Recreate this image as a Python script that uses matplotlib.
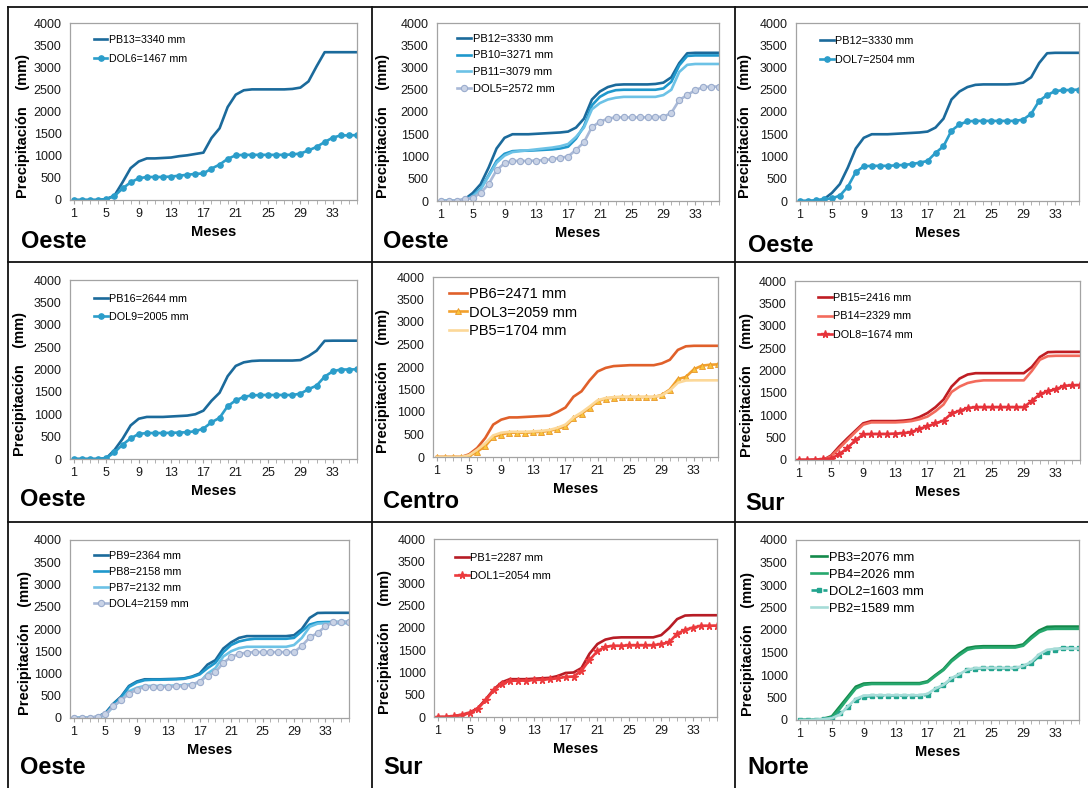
import matplotlib
matplotlib.use('Agg')
import matplotlib.pyplot as plt
from matplotlib.lines import Line2D

plt.rcParams['font.family'] = ['Liberation Sans', 'DejaVu Sans']

# ---------------- data ----------------
months = list(range(1, 37))
xtick_labels = [1, 5, 9, 13, 17, 21, 25, 29, 33]
yticks = [0, 500, 1000, 1500, 2000, 2500, 3000, 3500, 4000]

PB13 = [0, 0, 0, 0, 20, 100, 400, 720, 870, 940, 940, 950, 960, 990, 1010, 1040, 1070, 1400, 1620, 2100,
        2380, 2480, 2500, 2500, 2500, 2500, 2500, 2510, 2540, 2680, 3020, 3340, 3340, 3340, 3340, 3340]
DOL6 = [0, 0, 0, 0, 20, 90, 260, 400, 490, 520, 520, 520, 530, 550, 570, 590, 600, 710, 800, 930,
        1010, 1020, 1020, 1020, 1020, 1020, 1020, 1030, 1050, 1120, 1200, 1310, 1410, 1460, 1460, 1467]

PB12 = [0, 0, 0, 40, 180, 380, 750, 1180, 1420, 1500, 1500, 1500, 1510, 1520, 1530, 1540, 1560, 1650, 1850, 2280,
        2460, 2560, 2610, 2620, 2620, 2620, 2620, 2630, 2660, 2780, 3100, 3320, 3330, 3330, 3330, 3330]
PB10 = [0, 0, 0, 20, 120, 280, 580, 900, 1060, 1120, 1130, 1130, 1140, 1150, 1160, 1180, 1220, 1400, 1680, 2150,
        2340, 2440, 2490, 2500, 2500, 2500, 2500, 2500, 2530, 2680, 3050, 3260, 3271, 3271, 3271, 3271]
PB11 = [0, 0, 0, 20, 100, 260, 560, 860, 1020, 1100, 1120, 1140, 1160, 1180, 1200, 1230, 1280, 1440, 1650, 2060,
        2200, 2280, 2320, 2340, 2340, 2340, 2340, 2340, 2380, 2500, 2900, 3060, 3079, 3079, 3079, 3079]
DOL5 = [0, 0, 10, 40, 70, 180, 380, 690, 850, 900, 900, 900, 910, 920, 940, 970, 1000, 1150, 1320, 1660,
        1780, 1850, 1880, 1880, 1880, 1880, 1880, 1890, 1890, 1980, 2270, 2380, 2490, 2560, 2570, 2572]

DOL7 = [0, 0, 20, 40, 60, 120, 320, 650, 780, 790, 790, 790, 800, 810, 830, 860, 900, 1080, 1230, 1580,
        1720, 1790, 1800, 1800, 1800, 1800, 1800, 1800, 1830, 1960, 2250, 2380, 2470, 2490, 2495, 2504]

PB16 = [0, 0, 0, 0, 20, 200, 450, 750, 900, 940, 940, 940, 950, 960, 970, 1000, 1080, 1300, 1480, 1850,
        2080, 2160, 2190, 2200, 2200, 2200, 2200, 2200, 2210, 2300, 2420, 2640, 2644, 2644, 2644, 2644]
DOL9 = [0, 0, 0, 0, 20, 150, 320, 460, 560, 580, 580, 580, 585, 590, 600, 620, 680, 820, 920, 1180,
        1310, 1390, 1420, 1430, 1430, 1430, 1430, 1430, 1460, 1560, 1640, 1840, 1960, 2000, 2000, 2005]

PB6 = [0, 0, 0, 0, 60, 200, 420, 720, 830, 880, 880, 890, 900, 910, 920, 1000, 1100, 1340, 1460, 1700,
       1900, 1980, 2020, 2030, 2040, 2040, 2040, 2040, 2080, 2160, 2380, 2460, 2471, 2471, 2471, 2471]
DOL3 = [0, 0, 0, 0, 20, 120, 240, 450, 500, 540, 540, 540, 550, 560, 580, 630, 680, 860, 960, 1090,
        1240, 1300, 1320, 1330, 1330, 1330, 1330, 1330, 1380, 1500, 1730, 1780, 1950, 2030, 2050, 2059]
PB5 = [0, 0, 0, 0, 40, 160, 300, 480, 540, 560, 560, 560, 570, 580, 600, 650, 720, 880, 990, 1120,
       1260, 1310, 1330, 1340, 1340, 1340, 1340, 1340, 1370, 1480, 1650, 1700, 1704, 1704, 1704, 1704]

PB15 = [0, 0, 0, 0, 100, 300, 480, 650, 820, 870, 870, 870, 870, 880, 900, 960, 1050, 1180, 1350, 1640,
        1820, 1910, 1940, 1940, 1940, 1940, 1940, 1940, 1940, 2080, 2300, 2410, 2416, 2416, 2416, 2416]
PB14 = [0, 0, 0, 0, 80, 260, 440, 620, 790, 840, 840, 840, 840, 850, 870, 910, 970, 1090, 1240, 1520,
        1640, 1720, 1760, 1780, 1780, 1780, 1780, 1780, 1780, 1990, 2240, 2320, 2329, 2329, 2329, 2329]
DOL8 = [0, 0, 10, 20, 30, 130, 260, 440, 570, 580, 580, 580, 590, 600, 620, 700, 750, 820, 880, 1040,
        1100, 1160, 1180, 1180, 1180, 1180, 1180, 1180, 1180, 1320, 1470, 1540, 1580, 1660, 1665, 1674]

PB9 = [0, 0, 0, 30, 110, 320, 480, 720, 820, 870, 870, 870, 875, 880, 890, 930, 1000, 1200, 1300, 1560,
       1700, 1800, 1840, 1840, 1840, 1840, 1840, 1840, 1860, 2000, 2250, 2360, 2364, 2364, 2364, 2364]
PB8 = [0, 0, 0, 20, 90, 300, 460, 700, 800, 850, 860, 860, 865, 870, 880, 920, 980, 1120, 1240, 1480,
       1640, 1720, 1760, 1780, 1780, 1780, 1780, 1780, 1800, 1950, 2100, 2150, 2158, 2158, 2158, 2158]
PB7 = [0, 0, 0, 10, 60, 260, 400, 600, 680, 720, 720, 720, 725, 730, 740, 760, 800, 1000, 1120, 1380,
       1500, 1570, 1600, 1600, 1600, 1600, 1600, 1600, 1640, 1800, 2050, 2120, 2132, 2132, 2132, 2132]
DOL4 = [0, 0, 10, 30, 80, 260, 400, 540, 640, 700, 700, 700, 705, 710, 720, 750, 820, 950, 1030, 1240,
        1370, 1440, 1470, 1480, 1480, 1480, 1480, 1480, 1480, 1620, 1810, 1910, 2060, 2150, 2155, 2159]

PB1 = [0, 0, 20, 50, 100, 200, 400, 620, 780, 850, 850, 850, 860, 870, 880, 920, 990, 1000, 1100, 1420,
       1640, 1740, 1780, 1790, 1790, 1790, 1790, 1790, 1840, 2000, 2200, 2280, 2287, 2287, 2287, 2287]
DOL1 = [0, 0, 20, 50, 90, 190, 380, 600, 750, 810, 820, 820, 830, 840, 850, 870, 900, 910, 1040, 1280,
        1480, 1580, 1600, 1600, 1610, 1610, 1610, 1610, 1640, 1680, 1870, 1960, 2010, 2050, 2050, 2054]

PB3 = [0, 0, 0, 30, 80, 300, 520, 740, 810, 820, 820, 820, 820, 820, 820, 820, 860, 1000, 1130, 1330,
       1480, 1600, 1630, 1640, 1640, 1640, 1640, 1640, 1680, 1850, 1990, 2070, 2076, 2076, 2076, 2076]
PB4 = [0, 0, 0, 20, 60, 250, 480, 700, 780, 800, 800, 800, 800, 800, 800, 800, 840, 980, 1110, 1300,
       1440, 1560, 1600, 1610, 1610, 1610, 1610, 1610, 1650, 1810, 1950, 2020, 2026, 2026, 2026, 2026]
DOL2 = [0, 0, 10, 30, 50, 150, 280, 440, 520, 530, 540, 540, 540, 540, 540, 540, 560, 680, 770, 920,
        1010, 1110, 1140, 1150, 1150, 1150, 1150, 1150, 1200, 1260, 1420, 1510, 1560, 1600, 1600, 1603]
PB2 = [0, 0, 10, 20, 40, 120, 300, 470, 540, 550, 550, 550, 550, 550, 550, 550, 580, 700, 780, 930,
       1020, 1120, 1150, 1160, 1160, 1160, 1160, 1160, 1200, 1290, 1460, 1560, 1580, 1589, 1589, 1589]

# ---------------- styles ----------------
LW = 1.9
def line(c, lw=LW):
    return dict(color=c, lw=lw)

st_dark = line('#1b6a9b')
st_dol_blue = dict(color='#2b9dca', lw=LW, marker='o', ms=3.8, mfc='#2b9dca', mec='#2b9dca')
st_med = line('#1f98cc')
st_light = line('#6cc2e6')
st_dol_grey = dict(color='#a9b9d7', lw=LW, marker='o', ms=4.5, mfc='#c9d3e6', mec='#9aaccd', mew=0.8)
st_pb6 = line('#e0602a')
st_dol3 = dict(color='#f2a02c', lw=LW, marker='^', ms=4.5, mfc='#f9c43c', mec='#e8962a', mew=0.6)
st_pb5 = line('#fcd898')
st_pb15 = line('#bf1d23')
st_pb14 = line('#f36b5c')
st_dol8 = dict(color='#e6323a', lw=LW, marker='*', ms=5.5, mfc='#e6323a', mec='#e6323a')
st_pb1 = line('#b71c25')
st_dol1 = dict(color='#ec3a3d', lw=LW, marker='*', ms=5.5, mfc='#ec3a3d', mec='#ec3a3d')
st_pb3 = line('#13894a')
st_pb4 = line('#27a86e')
st_dol2 = dict(color='#22a48e', lw=LW, ls=(0, (3, 1.5)), marker='s', ms=3.5, mfc='#22a48e', mec='#22a48e')
st_pb2 = line('#a6dcd8')

# ---------------- panels (pixel layout) ----------------
panels = [
    dict(box=(70, 23, 357, 200), region='Oeste', rxy=(21, 241), ylx=30,
         leg=(94, 39, 7.7, 0.88),
         series=[('PB13=3340 mm', PB13, st_dark), ('DOL6=1467 mm', DOL6, st_dol_blue)]),
    dict(box=(437, 23, 719, 201), region='Oeste', rxy=(383, 241), ylx=390,
         leg=(457, 38, 8.0, 0.62),
         series=[('PB12=3330 mm', PB12, st_dark), ('PB10=3271 mm', PB10, st_med),
                 ('PB11=3079 mm', PB11, st_light), ('DOL5=2572 mm', DOL5, st_dol_grey)]),
    dict(box=(796, 23, 1079, 201), region='Oeste', rxy=(748, 245), ylx=752,
         leg=(820, 40, 7.8, 0.86),
         series=[('PB12=3330 mm', PB12, st_dark), ('DOL7=2504 mm', DOL7, st_dol_blue)]),
    dict(box=(70, 280, 357, 459), region='Oeste', rxy=(20, 500), ylx=27,
         leg=(94, 298, 7.8, 0.78),
         series=[('PB16=2644 mm', PB16, st_dark), ('DOL9=2005 mm', DOL9, st_dol_blue)]),
    dict(box=(433, 277, 718, 457), region='Centro', rxy=(383, 502), ylx=390,
         leg=(449, 293, 10.5, 0.30),
         series=[('PB6=2471 mm', PB6, st_pb6), ('DOL3=2059 mm', DOL3, st_dol3), ('PB5=1704 mm', PB5, st_pb5)]),
    dict(box=(795, 281, 1080, 460), region='Sur', rxy=(745, 503), ylx=754,
         leg=(818, 297, 7.8, 0.80),
         series=[('PB15=2416 mm', PB15, st_pb15), ('PB14=2329 mm', PB14, st_pb14), ('DOL8=1674 mm', DOL8, st_dol8)]),
    dict(box=(70, 540, 349, 718), region='Oeste', rxy=(20, 768), ylx=32,
         leg=(94, 555, 7.8, 0.56),
         series=[('PB9=2364 mm', PB9, st_dark), ('PB8=2158 mm', PB8, st_med),
                 ('PB7=2132 mm', PB7, st_light), ('DOL4=2159 mm', DOL4, st_dol_grey)]),
    dict(box=(434, 539, 717, 717), region='Sur', rxy=(383, 768), ylx=392,
         leg=(455, 557, 7.9, 0.78),
         series=[('PB1=2287 mm', PB1, st_pb1), ('DOL1=2054 mm', DOL1, st_dol1)]),
    dict(box=(796, 540, 1079, 720), region='Norte', rxy=(747, 768), ylx=755,
         leg=(811, 557, 9.3, 0.38),
         series=[('PB3=2076 mm', PB3, st_pb3), ('PB4=2026 mm', PB4, st_pb4),
                 ('DOL2=1603 mm', DOL2, st_dol2), ('PB2=1589 mm', PB2, st_pb2)]),
]

W, H = 1088, 788
fig = plt.figure(figsize=(W / 100, H / 100), dpi=100)
fig.patch.set_facecolor('white')

SPINE = '#a3a3a3'
for p in panels:
    l, t, r, b = p['box']
    aw, ah = r - l, b - t
    ax = fig.add_axes([l / W, 1 - b / H, aw / W, ah / H])
    handles = []
    for lab, vals, st in p['series']:
        h, = ax.plot(months, vals, label=lab, **st)
        handles.append(h)
    ax.set_xlim(0.5, 36)
    ax.set_ylim(0, 4000)
    ax.set_yticks(yticks)
    ax.set_xticks(xtick_labels)
    ax.set_xticks(months, minor=True)
    ax.tick_params(axis='y', length=0, pad=6, labelsize=9, colors='#1a1a1a')
    ax.tick_params(axis='x', which='both', length=3, direction='out', color=SPINE,
                   pad=3, labelsize=9, labelcolor='#1a1a1a')
    for s in ax.spines.values():
        s.set_color(SPINE)
        s.set_linewidth(0.9)
    ax.set_ylabel('Precipitación    (mm)', fontsize=10.5, fontweight='bold')
    ax.yaxis.set_label_coords((p['ylx'] - l) / aw, 0.42)
    ax.set_xlabel('Meses', fontsize=10.5, fontweight='bold')
    ax.xaxis.set_label_coords(0.5, -25 / ah)

    lx, ly, fs, sp = p['leg']
    fs_px = fs * 100 / 72
    top_px = ly - fs_px * 0.40
    ax.legend(handles=handles, loc='upper left',
              bbox_to_anchor=((lx - l) / aw, 1 - (top_px - t) / ah),
              frameon=False, fontsize=fs, handlelength=1.25, handletextpad=0.15,
              labelspacing=sp, borderpad=0, borderaxespad=0, numpoints=1)

    rx, ry = p['rxy']
    fig.text(rx / W, 1 - ry / H, p['region'], fontsize=17, fontweight='bold',
             ha='left', va='center', color='black')

# table borders
def fline(x0, y0, x1, y1):
    fig.add_artist(Line2D([x0 / W, x1 / W], [1 - y0 / H, 1 - y1 / H],
                          transform=fig.transFigure, color='#111111', lw=1.3))

for y in (7, 262, 522):
    fline(8, y, W, y)
for x in (8, 372, 735):
    fline(x, 7, x, H)

fig.savefig('out.png', dpi=100, facecolor='white')
